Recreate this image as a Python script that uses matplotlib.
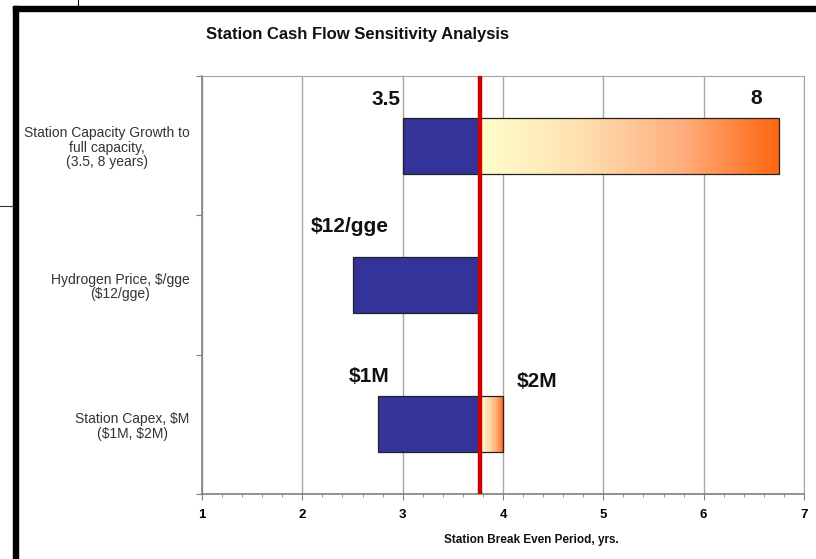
"""Station cash flow sensitivity (tornado) chart."""

import matplotlib
matplotlib.use('Agg')
import matplotlib.pyplot as plt
import numpy as np
from matplotlib.colors import LinearSegmentedColormap
from matplotlib.lines import Line2D
from matplotlib.patches import Rectangle

plt.rcParams['font.family'] = ['Liberation Sans', 'DejaVu Sans']

TITLE = 'Station Cash Flow Sensitivity Analysis'
X_LABEL = 'Station Break Even Period, yrs.'

# top to bottom
CATEGORIES = [
    'Station Capacity Growth to\nfull capacity,\n(3.5, 8 years)',
    'Hydrogen Price, \\$/gge\n(\\$12/gge)',
    'Station Capex, \\$M\n(\\$1M, \\$2M)',
]
BASE_CASE = 3.77
LOW_CASE = [3.0, 2.5, 2.75]
HIGH_CASE = [6.75, 3.77, 4.0]
LOW_LABELS = ['3.5', '\\$12/gge', '\\$1M']
HIGH_LABELS = ['8', '', '\\$2M']
X_TICKS = [1, 2, 3, 4, 5, 6, 7]

BLUE = '#333399'
RED = '#CC0000'
GRID = '#A6A6A6'
ORANGE_CMAP = LinearSegmentedColormap.from_list(
    'orange', ['#FFFFCC', '#FFE0B0', '#FFB080', '#FF6610'])


def main():
    fig = plt.figure(figsize=(8.16, 5.59), dpi=100)
    ax = fig.add_axes([202 / 816, 1 - 494 / 559, 602 / 816, 418 / 559])

    n = len(CATEGORIES)
    y_pos = np.arange(n)[::-1]
    bar_h = 0.4

    # low side (blue)
    ax.barh(y_pos, np.array(BASE_CASE) - np.array(LOW_CASE), left=LOW_CASE,
            height=bar_h, color=BLUE, edgecolor='#222222', linewidth=0.9,
            zorder=3)

    # high side (gradient)
    grad = np.linspace(0, 1, 256).reshape(1, -1)
    for y, hi in zip(y_pos, HIGH_CASE):
        if hi <= BASE_CASE:
            continue
        rect = Rectangle((BASE_CASE, y - bar_h / 2), hi - BASE_CASE, bar_h,
                         facecolor='none', edgecolor='#222222',
                         linewidth=0.9, zorder=4)
        ax.add_patch(rect)
        im = ax.imshow(grad, cmap=ORANGE_CMAP, aspect='auto',
                       extent=[BASE_CASE, hi, y - bar_h / 2, y + bar_h / 2],
                       zorder=3)
        im.set_clip_path(rect)

    ax.axvline(BASE_CASE, color=RED, linewidth=3.2, zorder=5)

    # value labels
    lab = dict(fontsize=15, fontweight='bold', va='center', color='#111111')
    ax.text(LOW_CASE[0] - 0.02, y_pos[0] + 0.33, LOW_LABELS[0], ha='right', **lab)
    ax.text(HIGH_CASE[0] - 0.23, y_pos[0] + 0.34, HIGH_LABELS[0], ha='center', **lab)
    ax.text(LOW_CASE[1] - 0.03, y_pos[1] + 0.42, LOW_LABELS[1], ha='center', **lab)
    ax.text(LOW_CASE[2] - 0.08, y_pos[2] + 0.34, LOW_LABELS[2], ha='center', **lab)
    ax.text(HIGH_CASE[2] + 0.34, y_pos[2] + 0.31, HIGH_LABELS[2], ha='center', **lab)

    ax.set_xlim(1, 7)
    ax.set_ylim(-0.5, n - 0.5)
    ax.set_xticks(X_TICKS)
    ax.set_xticklabels([str(t) for t in X_TICKS], fontsize=9.5, fontweight='bold')
    ax.set_xticks(np.arange(1, 7.01, 0.2), minor=True)
    ax.grid(axis='x', which='major', color=GRID, linewidth=1.0, zorder=0)

    ax.set_yticks(np.arange(-0.5, n, 1.0))
    ax.set_yticklabels([])
    ax.set_yticks(y_pos, CATEGORIES, minor=True)
    ax.tick_params(axis='y', which='major', length=4, color='#808080')
    ax.tick_params(axis='y', which='minor', length=0, pad=9, labelsize=10,
                   labelcolor='#333333')
    for t in ax.get_yticklabels(minor=True):
        t.set_multialignment('center')
        t.set_linespacing(1.08)
    ax.tick_params(axis='x', which='major', length=4, color='#808080', pad=7)
    ax.tick_params(axis='x', which='minor', length=2, color='#808080')

    for side in ['top', 'right']:
        ax.spines[side].set_color(GRID)
    for side in ['left', 'bottom']:
        ax.spines[side].set_color('#808080')
        ax.spines[side].set_linewidth(1.2)

    fig.text(358 / 816, 1 - 35 / 559, TITLE, fontsize=12, fontweight='bold',
             ha='center', va='center', color='#111111')
    fig.text(531 / 816, 1 - 540 / 559, X_LABEL, fontsize=8.5, fontweight='bold',
             ha='center', va='center', color='#111111')

    # frame from the original slide
    W, H = 816, 559
    fig.add_artist(Rectangle((12.5 / W, 0), 5 / W, 1 - 6 / H,
                             transform=fig.transFigure, color='black'))
    fig.add_artist(Rectangle((12.5 / W, 1 - 11 / H), 1, 5 / H,
                             transform=fig.transFigure, color='black'))
    fig.add_artist(Line2D([78 / W, 78 / W], [1 - 6 / H, 1],
                          transform=fig.transFigure, color='black', linewidth=0.8))
    fig.add_artist(Line2D([0, 12.5 / W], [1 - 205.5 / H, 1 - 205.5 / H],
                          transform=fig.transFigure, color='#333333', linewidth=0.8))

    fig.savefig('out.png', dpi=100)
    plt.close(fig)


if __name__ == '__main__':
    main()
